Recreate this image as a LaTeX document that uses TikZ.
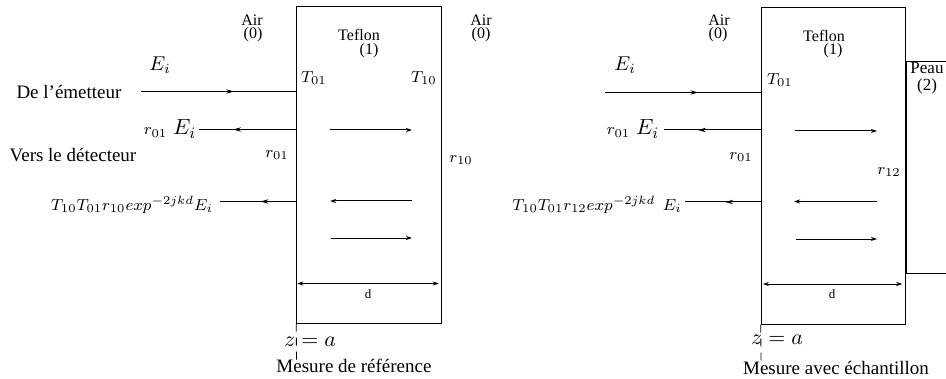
\documentclass[tikz,border=0pt]{standalone}
\usepackage{fontspec}
\setmainfont{Liberation Serif}
\usepackage{amsmath}
\usetikzlibrary{arrows.meta, calc, decorations.markings}
\newcommand{\rEi}{{\fontsize{8.5}{10}\selectfont$r_{01}$}\hspace{3pt}{\fontsize{11}{13}\selectfont$E_i$}}
\tikzset{
  slab/.style={rectangle, draw=black, line width=0.5pt, inner sep=0pt,
    minimum width=72.25pt, minimum height=158pt},
  lab/.style={inner sep=0pt, font=\fontsize{9.5}{12}\selectfont},
  field/.style={inner sep=0pt, font=\fontsize{10}{12}\selectfont},
  echo/.style={inner sep=0pt, font=\fontsize{8.4}{11}\selectfont},
  medium/.style={inner sep=0pt, font=\fontsize{8}{9}\selectfont},
  symb/.style={inner sep=0pt, font=\fontsize{8.5}{10}\selectfont},
  wave/.style={line width=0.5pt, color=black, -{Stealth[length=3pt,width=2pt]}},
  both/.style={line width=0.5pt, color=black, {Stealth[length=3pt,width=2pt]}-{Stealth[length=3pt,width=2pt]}},
  midtip/.style={line width=0.5pt, color=black, decoration={markings,
    mark=at position #1 with {\arrow{Stealth[length=4pt,width=2.2pt]}}}, postaction=decorate},
  zline/.style={line width=0.4pt, dash pattern=on 4pt off 3pt}
}
\begin{document}
\begin{tikzpicture}[x=0.5pt, y=-0.5pt]
  \useasboundingbox (0,0) rectangle (946,379);

  % Reference measurement
  \node[slab] (refbox) at (369,165) {};
  \node[medium] (refair) at (252,20) {Air};
  \node[medium] (refairn) at (253,35) {(0)};
  \node[medium] (refteflon) at (359,35) {Teflon};
  \node[medium] (refteflonn) at (369,51) {(1)};
  \node[medium] (refairb) at (481,20) {Air};
  \node[medium] (refairbn) at (481,35) {(0)};
  \node[field] (refEi) at (160,65) {$E_i$};
  \node[symb] (refTa) at (314,78) {$T_{01}$};
  \node[symb] (refTb) at (424,78) {$T_{10}$};
  \node[lab] (emetteur) at (69,92) {De l'émetteur};
  \node[lab] (refrE) at (170,129) {\rEi};
  \node[lab] (detecteur) at (73,155) {Vers le détecteur};
  \node[symb] (refra) at (277,155) {$r_{01}$};
  \node[symb] (refrb) at (461,160) {$r_{10}$};
  \node[echo] (refback) at (132,205) {$T_{10}T_{01}r_{10}exp^{-2jkd}E_i$};
  \node[font=\fontsize{6.5}{8}\selectfont, inner sep=0pt] (refd) at (368,294) {d};
  \node[inner sep=0pt, font=\fontsize{11}{13}\selectfont] (refz) at (310,342) {$z = a$};
  \node[lab] (refname) at (354,366) {Mesure de référence};

  \coordinate (refin) at (141,91.5);
  \coordinate (refout) at (199,129.5);
  \coordinate (refecho) at (220,201.5);
  \coordinate (refaL) at (330,130);
  \coordinate (refaR) at (412,130);
  \coordinate (refbL) at (330,201);
  \coordinate (refbR) at (412,201);
  \coordinate (refcL) at (331,238);
  \coordinate (refcR) at (412,238);
  \coordinate (refdy) at (369,283.5);
  \coordinate (refzend) at (296.5,362);
  \draw[midtip=0.6] (refin) -- (refin -| refbox.west);
  \draw[midtip=0.65] (refout -| refbox.west) -- (refout);
  \draw[midtip=0.47] (refecho -| refbox.west) -- (refecho);
  \draw[wave] (refaL) -- (refaR);
  \draw[wave] (refbR) -- (refbL);
  \draw[wave] (refcL) -- (refcR);
  \draw[both] ($(refdy -| refbox.west)+(1,0)$) -- ($(refdy -| refbox.east)+(-3,0)$);
  \draw[zline] (refbox.south west) -- (refzend);

  % Measurement with sample
  \node[slab] (mesbox) at (833.5,166) {};
  \node[medium] (mesair) at (719,20) {Air};
  \node[medium] (mesairn) at (718,35) {(0)};
  \node[medium] (mesteflon) at (824,36) {Teflon};
  \node[medium] (mesteflonn) at (833,51) {(1)};
  \node[medium, font=\fontsize{8.5}{10}\selectfont] (peau) at (927,68) {Peau};
  \node[medium, font=\fontsize{8.5}{10}\selectfont] (peaun) at (927,86) {(2)};
  \node[field] (mesEi) at (625,65) {$E_i$};
  \node[symb] (mesTa) at (780,80) {$T_{01}$};
  \node[lab] (mesrE) at (633,129) {\rEi};
  \node[symb] (mesra) at (741,157) {$r_{01}$};
  \node[symb] (mesrb) at (889,172) {$r_{12}$};
  \node[echo] (mesback) at (597,205) {$T_{10}T_{01}r_{12}exp^{-2jkd}\;\,E_i$};
  \node[font=\fontsize{6.5}{8}\selectfont, inner sep=0pt] (mesd) at (832,294) {d};
  \node[inner sep=0pt, font=\fontsize{11}{13}\selectfont] (mesz) at (777,340) {$z = a$};
  \node[lab] (mesname) at (836,368) {Mesure avec échantillon};

  \coordinate (mesin) at (605,92.5);
  \coordinate (mesout) at (664,130);
  \coordinate (mesecho) at (685,202);
  \coordinate (mesaL) at (795,131);
  \coordinate (mesaR) at (877,131);
  \coordinate (mesbL) at (794,201.5);
  \coordinate (mesbR) at (877,201.5);
  \coordinate (mescL) at (796,239);
  \coordinate (mescR) at (877,239);
  \coordinate (mesdy) at (833,284);
  \coordinate (meszend) at (761,362);
  \coordinate (peautop) at (946,62);
  \coordinate (peaubot) at (946,273);
  \draw[midtip=0.6] (mesin) -- (mesin -| mesbox.west);
  \draw[midtip=0.65] (mesout -| mesbox.west) -- (mesout);
  \draw[midtip=0.47] (mesecho -| mesbox.west) -- (mesecho);
  \draw[wave] (mesaL) -- (mesaR);
  \draw[wave] (mesbR) -- (mesbL);
  \draw[wave] (mescL) -- (mescR);
  \draw[both] ($(mesdy -| mesbox.west)+(2,0)$) -- ($(mesdy -| mesbox.east)+(-4,0)$);
  \draw[zline] (mesbox.south west) -- (meszend);
  \draw[line width=0.5pt] (peautop) -- (peautop -| mesbox.east) -- (peaubot -| mesbox.east) -- (peaubot);
\end{tikzpicture}
\end{document}
